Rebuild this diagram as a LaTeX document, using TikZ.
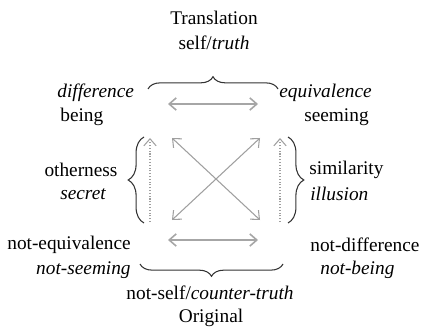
\documentclass[tikz,border=0pt]{standalone}
\usepackage{fontspec}
\setmainfont{Liberation Serif}
\usetikzlibrary{arrows.meta,decorations.pathreplacing}

\begin{document}
\begin{tikzpicture}[
  x=0.02cm, y=-0.02cm,
  lbl/.style={inner sep=0pt, font=\rmfamily\fontsize{11}{13}\selectfont},
  ital/.style={lbl, font=\rmfamily\fontsize{11}{13}\selectfont\itshape},
  arrow/.style={{Straight Barb[length=4pt,width=7pt]}-{Straight Barb[length=4pt,width=7pt]},
    gray!75, line width=0.6pt},
  dblarrow/.style={arrow, line width=0.9pt, gray!70},
  updots/.style={-{Straight Barb[length=4pt,width=7pt]}, gray!75, line width=0.6pt,
    densely dotted},
  brc/.style={decorate, decoration={brace, amplitude=7pt}, black!80, line width=0.6pt},
  vbrc/.style={brc, decoration={brace, amplitude=9pt}}
]
\useasboundingbox (0,0) rectangle (421,330);
% labels
\node[lbl] (trans) at (214,18) {Translation};
\node[lbl] (self) at (214,43) {self/\textit{truth}};
\node[ital, anchor=west] (diff) at (57,93) {difference};
\node[lbl, anchor=west] (being) at (60,117) {being};
\node[ital, anchor=west] (equiv) at (279,93) {equivalence};
\node[lbl, anchor=east] (seem) at (369,117) {seeming};
\node[lbl] (other) at (81,170) {otherness};
\node[ital] (secret) at (83,194) {secret};
\node[lbl, anchor=west] (simil) at (309,170) {similarity};
\node[ital, anchor=west] (illus) at (310,194) {illusion};
\node[lbl, anchor=west] (notequiv) at (7,245) {not-equivalence};
\node[ital, anchor=east] (notseem) at (131,270) {not-seeming};
\node[lbl, anchor=west] (notdiff) at (310,245) {not-difference};
\node[ital, anchor=west] (notbeing) at (320,270) {not-being};
\node[lbl] (notself) at (210,293) {not-self/\textit{counter-truth}};
\node[lbl] (orig) at (211,318) {Original};
% corners of the square
\coordinate (tl) at (172,138);
\coordinate (tr) at (260,138);
\coordinate (bl) at (172,220);
\coordinate (br) at (260,220);
\coordinate (topl) at (168,104);
\coordinate (topr) at (258,104);
\coordinate (botl) at (168,240);
\coordinate (botr) at (258,240);
\coordinate (lft0) at (150,222);
\coordinate (lft1) at (150,138);
\coordinate (rgt0) at (280,222);
\coordinate (rgt1) at (280,138);
% arrows
\draw[dblarrow] (topl) -- (topr);
\draw[dblarrow] (botl) -- (botr);
\draw[arrow] (tl) -- (br);
\draw[arrow] (tr) -- (bl);
\draw[updots] (lft0) -- (lft1);
\draw[updots] (rgt0) -- (rgt1);
% braces
\draw[brc] (148,89) -- (278,89);
\draw[vbrc] (144,223) -- (144,137);
\draw[vbrc] (288,137) -- (288,223);
\draw[brc] (283,264) -- (140,264);
\end{tikzpicture}
\end{document}
